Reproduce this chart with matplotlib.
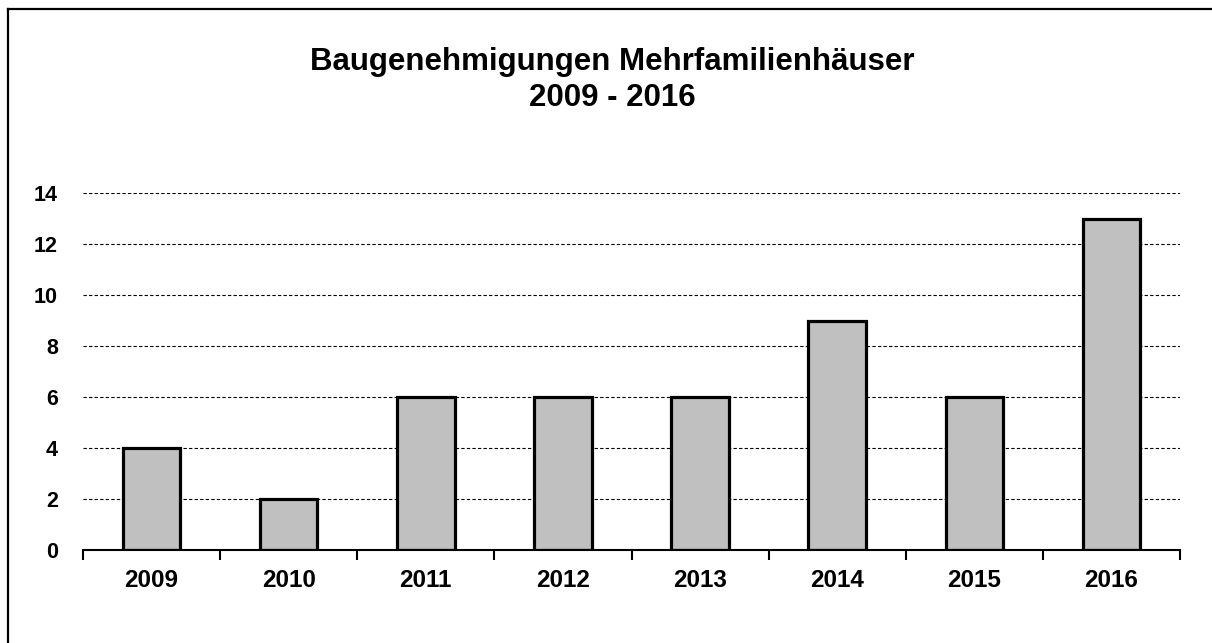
import matplotlib
matplotlib.use("Agg")
import matplotlib.pyplot as plt
import numpy as np
from matplotlib.lines import Line2D

years = ["2009", "2010", "2011", "2012", "2013", "2014", "2015", "2016"]
values = [4, 2, 6, 6, 6, 9, 6, 13]
y_ticks = [0, 2, 4, 6, 8, 10, 12, 14]

plt.rcParams['font.family'] = ['Liberation Sans', 'DejaVu Sans']

W, H = 1212, 643
fig = plt.figure(figsize=(W / 100, H / 100), dpi=100)
ax = fig.add_axes([83 / W, (H - 550) / H, (1180 - 83) / W, (550 - 193) / H])

x = np.arange(len(years))
ax.bar(x, values, width=0.42, color="#c0c0c0", edgecolor="black", linewidth=2.3, zorder=3)

ax.set_xlim(-0.5, len(years) - 0.5)
ax.set_ylim(0, 14)
ax.set_yticks(y_ticks)
ax.set_yticklabels([str(v) for v in y_ticks], fontweight="bold", fontsize=15.5)
ax.tick_params(axis="y", length=0, pad=18)
ax.set_xticks(x)
ax.set_xticklabels(years, fontweight="bold", fontsize=17.5)
ax.set_xticks(np.arange(-0.5, len(years), 1), minor=True)
ax.tick_params(axis="x", which="major", length=0, pad=14)
ax.tick_params(axis="x", which="minor", length=7, width=1.5, direction="out", color="black")

for v in y_ticks[1:]:
    ax.axhline(v, color="black", linewidth=0.8, linestyle=(0, (3, 2)), zorder=1)

for s in ["left", "right", "top"]:
    ax.spines[s].set_visible(False)
ax.spines["bottom"].set_linewidth(1.5)
ax.spines["bottom"].set_zorder(4)

fig.text(612 / W, 1 - 62 / H, "Baugenehmigungen Mehrfamilienhäuser", ha="center", va="center",
         fontsize=22.5, fontweight="bold")
fig.text(612 / W, 1 - 98 / H, "2009 - 2016", ha="center", va="center",
         fontsize=22.5, fontweight="bold")

# outer border (top and left visible)
fig.add_artist(Line2D([8 / W, 8 / W], [0, 1 - 9 / H], transform=fig.transFigure, color="black", linewidth=1.6))
fig.add_artist(Line2D([8 / W, 1], [1 - 9 / H, 1 - 9 / H], transform=fig.transFigure, color="black", linewidth=1.6))

fig.savefig("out.png", dpi=100, facecolor="white")
